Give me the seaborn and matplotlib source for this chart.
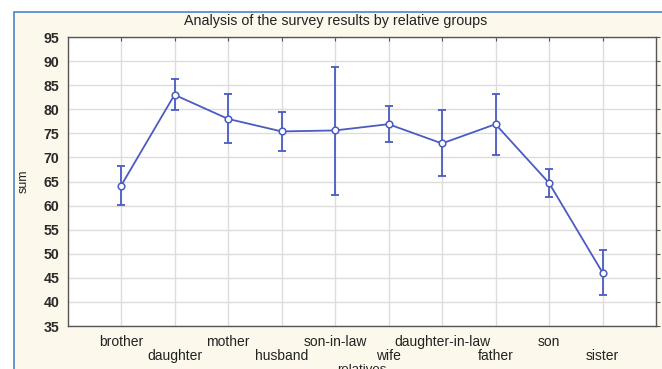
import numpy as np
import pandas as pd
import matplotlib
matplotlib.use("Agg")
import matplotlib.pyplot as plt
from matplotlib.patches import Rectangle
import seaborn as sns

# Survey sums per relative group, with lower / upper confidence limits
relatives = ["brother", "daughter", "mother", "husband", "son-in-law",
             "wife", "daughter-in-law", "father", "son", "sister"]
sums = [64.1, 83.0, 78.0, 75.4, 75.6, 76.9, 72.9, 76.9, 64.7, 46.1]
lower = [60.1, 79.9, 72.9, 71.3, 62.3, 73.2, 66.1, 70.6, 61.8, 41.5]
upper = [68.2, 86.2, 83.2, 79.5, 88.8, 80.6, 79.8, 83.2, 67.6, 50.8]
y_ticks = list(range(35, 100, 5))

df = pd.DataFrame({"relatives": relatives, "sum": sums})

sns.set_theme(style="white")
plt.rcParams["font.family"] = ["Liberation Sans", "DejaVu Sans"]

line_color = "#4b5bc2"
W, H = 662, 369
fig = plt.figure(figsize=(W / 100, H / 100), dpi=100, facecolor="white")

# Beige panel with a thin blue frame behind the plot (runs past right/bottom edges)
fig.patches.append(Rectangle((13.5 / W, -0.1), 1, 1.1 - 12.5 / H,
                             transform=fig.transFigure, facecolor="#fcf8ec",
                             edgecolor="#4a86c8", linewidth=1.2, zorder=-10))

ax = fig.add_axes([67.5 / W, 1 - 326 / H, (656 - 67.5) / W, (326 - 37) / H])
ax.set_facecolor("white")

sns.pointplot(data=df, x="relatives", y="sum", order=relatives, errorbar=None,
              color=line_color, markers="o", linestyles="-",
              markersize=4.8, linewidth=1.3, markerfacecolor="white",
              markeredgewidth=1.1, ax=ax, zorder=4)

pos = np.arange(len(relatives))
s = np.array(sums)
ax.errorbar(pos, s, yerr=[s - np.array(lower), np.array(upper) - s],
            fmt="none", ecolor=line_color, elinewidth=1.3, capsize=3,
            capthick=1.3, zorder=3)

ax.set_xlim(-1, len(relatives))
ax.set_ylim(35, 95)
ax.set_yticks(y_ticks)

# Staggered category labels: even ones on the first row, odd ones on a lower row
ax.set_xticks(pos[0::2], relatives[0::2], fontsize=10, color="#222222")
ax.set_xticks(pos[1::2], relatives[1::2], minor=True, fontsize=10, color="#222222")
ax.tick_params(axis="x", which="both", direction="in", length=3, width=0.8,
               color="#555555", top=True)
ax.tick_params(axis="x", which="major", pad=6.5)
ax.tick_params(axis="x", which="minor", pad=16.5)
ax.tick_params(axis="y", labelsize=10.2, labelcolor="#2a2a2a", direction="out",
               length=3, width=0.8, color="#555555", pad=3, right=True)
for lab in ax.get_yticklabels():
    lab.set_fontweight("bold")

ax.grid(True, which="both", axis="x", color="#dcdcdc", linewidth=1.0)
ax.grid(True, which="major", axis="y", color="#dcdcdc", linewidth=1.0)
ax.set_axisbelow(True)
for sp in ax.spines.values():
    sp.set_color("#555555")
    sp.set_linewidth(1.0)

ax.set_title("Analysis of the survey results by relative groups",
             fontsize=10.3, color="#222222", pad=9, x=(336 - 67.5) / (656 - 67.5))
ax.set_xlabel("relatives", fontsize=9.5, color="#222222", labelpad=1)
ax.set_ylabel("sum", fontsize=9, color="#222222", labelpad=10)

fig.savefig("out.png", dpi=100, facecolor="white")
